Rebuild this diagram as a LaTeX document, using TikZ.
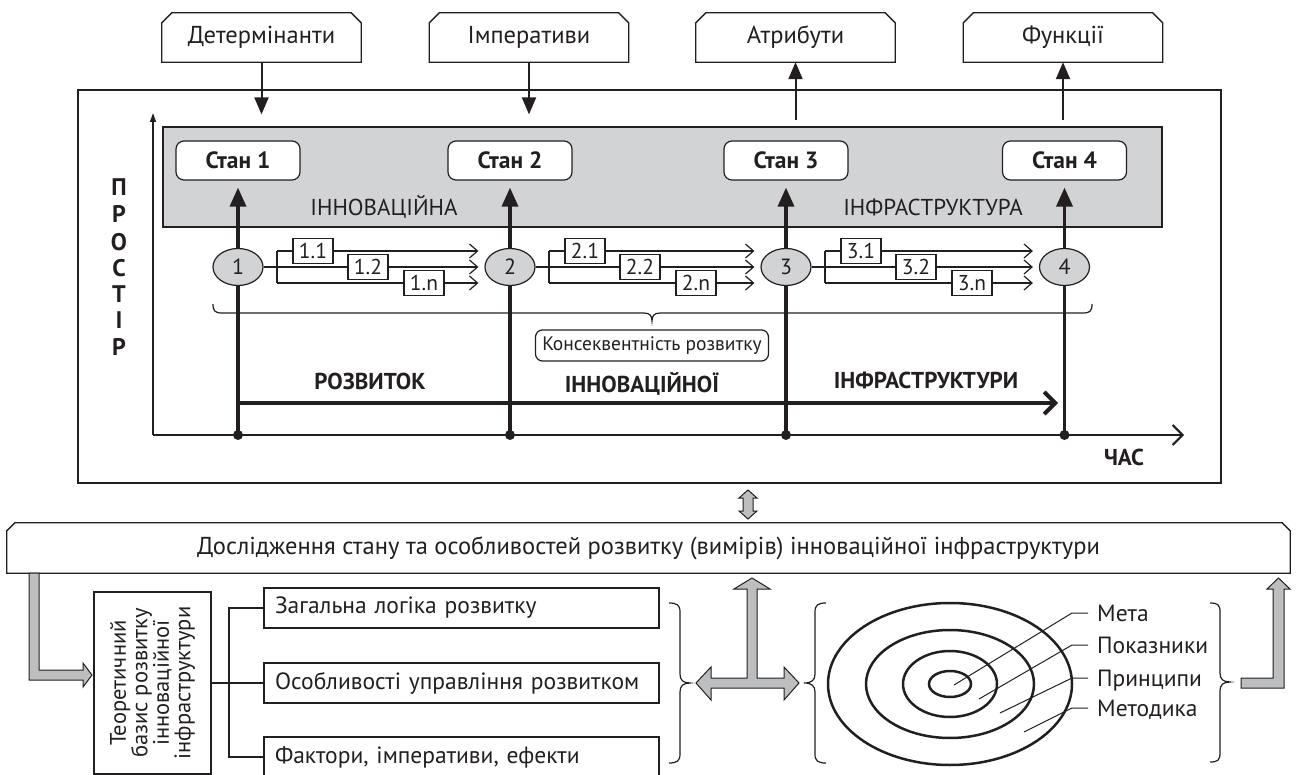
\documentclass[tikz,border=0pt]{standalone}
\usepackage{fontspec}
\setmainfont{PT Sans}
\usetikzlibrary{arrows.meta,calc,shapes.geometric}
\definecolor{ink}{HTML}{231F20}
\definecolor{bandgray}{HTML}{D1D3D4}
\definecolor{blockgray}{HTML}{BCBEC0}
\newcommand\fsz[1]{\fontsize{#1pt}{#1pt}\selectfont}
\newcommand\chamframe[2]{\draw[boxline] (#1.south west) -- ([yshift=-#2pt]#1.north west) -- ([xshift=#2pt]#1.north west) -- ([xshift=-#2pt]#1.north east) -- ([yshift=-#2pt]#1.north east) -- (#1.south east) -- cycle;}
\begin{document}
\begin{tikzpicture}[x=1pt,y=-1pt,
  every node/.style={text=ink},
  boxline/.style={draw=ink,line width=1.3pt},
  thinl/.style={draw=ink,line width=1.2pt},
  topbox/.style={minimum width=199pt,minimum height=49pt,inner sep=0pt,font=\fsz{24.5}},
  stanbox/.style={draw=ink,line width=1.2pt,rounded corners=8pt,fill=white,minimum width=124pt,minimum height=39pt,inner sep=0pt,font=\bfseries\fsz{23.5}},
  numnode/.style={ellipse,draw=ink,fill=bandgray,line width=1.2pt,minimum width=50pt,minimum height=37pt,inner sep=0pt,font=\fsz{22}},
  subbox/.style={draw=ink,fill=white,line width=1.1pt,minimum width=40pt,minimum height=25pt,inner sep=0pt,font=\fsz{21.5}},
  axisdot/.style={circle,fill=ink,inner sep=0pt,minimum size=10pt},
  inarrow/.style={draw=ink,line width=2pt,-{Triangle[length=17pt,width=14pt]}},
  stemarrow/.style={draw=ink,line width=3.5pt,-{Triangle[length=19pt,width=16pt]}},
  brarrow/.style={draw=ink,line width=1.2pt,-{Straight Barb[length=8pt,width=14pt]}},
  boldlabel/.style={font=\bfseries\fsz{23}},
  itembox/.style={draw=ink,line width=1.2pt,minimum width=395pt,minimum height=40pt,text width=373pt,inner xsep=11pt,inner ysep=0pt,align=left,font=\fsz{23.5}},
  blockarrow/.style={fill=blockgray,draw=ink,line width=1pt,line join=miter},
  ring/.style={ellipse,draw=ink,line width=2.5pt,inner sep=0pt},
  ringlabel/.style={anchor=west,inner xsep=9pt,inner ysep=0pt,text height=16pt,text depth=0pt,font=\fsz{23.5}},
  bracel/.style={draw=ink,line width=1.2pt}
]
\useasboundingbox (0,0) rectangle (1296,775);

% top boxes
\node[topbox] (det) at (261.5,37.5) {Детермінанти};
\node[topbox] (imp) at (529,37.5) {Імперативи};
\node[topbox] (atr) at (795.5,37.5) {Атрибути};
\node[topbox] (fun) at (1063,37.5) {Функції};
\foreach \b in {det,imp,atr,fun} {\chamframe{\b}{10}}

% frame and band
\node[boxline,minimum width=1143pt,minimum height=393pt,inner sep=0pt] (frame) at (649.5,286.5) {};
\node[fill=bandgray,draw=ink,line width=1.2pt,minimum width=999pt,minimum height=100pt,inner sep=0pt] (band) at (662.5,177) {};
\node[font=\fsz{23}] (bandA) at (384,207) {ІННОВАЦІЙНА};
\node[font=\fsz{23}] (bandB) at (933,207) {ІНФРАСТРУКТУРА};

\draw[inarrow] (det.south) -- ([yshift=12pt]band.north -| det.south);
\draw[inarrow] (imp.south) -- ([yshift=12pt]band.north -| imp.south);
\draw[inarrow] ([yshift=6pt]band.north -| atr.south) -- (atr.south);
\draw[inarrow] ([yshift=6pt]band.north -| fun.south) -- (fun.south);

% states
\node[stanbox] (s1) at (238,160.5) {Стан 1};
\node[stanbox] (s2) at (510,160.5) {Стан 2};
\node[stanbox] (s3) at (786,160.5) {Стан 3};
\node[stanbox] (s4) at (1064.5,160.5) {Стан 4};

% axes
\coordinate (orig) at (153,435);
\coordinate (ytip) at (153,113);
\coordinate (xtip) at (1184,435);
\draw[thinl,-{Triangle[length=9pt,width=6pt]}] (orig) -- (ytip);
\draw[draw=ink,line width=2pt,-{Straight Barb[length=10pt,width=20pt]}] (orig) -- (xtip);

\node[axisdot] (t1) at (238,435) {};
\node[axisdot] (t2) at (510,435) {};
\node[axisdot] (t3) at (786,435) {};
\node[axisdot] (t4) at (1064.5,435) {};

\coordinate (devend) at (1058,403);
\draw[draw=ink,line width=4pt,-{Straight Barb[length=11pt,width=22pt]}] (t1.center |- devend) -- (devend);

\foreach \k in {1,...,4} \draw[stemarrow,shorten >=7pt] (t\k.center) -- (s\k.south);

\node[numnode] (n1) at (238,267) {1};
\node[numnode] (n2) at (510,267) {2};
\node[numnode] (n3) at (786,267) {3};
\node[numnode] (n4) at (1064.5,267) {4};

\foreach \i/\j in {1/2,2/3,3/4} {
  \coordinate (br\i) at ($(n\i.center)+(39,0)$);
  \draw[thinl] (n\i.east) -- (br\i);
  \draw[thinl] ($(br\i)+(0,-16)$) -- ($(br\i)+(0,16)$);
  \foreach \dy in {-16,0,16}
    \draw[brarrow,shorten >=6pt] ($(br\i)+(0,\dy)$) -- ($(n\j.west)+(0,\dy)$);
  \node[subbox] (ba\i) at ($(n\i.center)+(75,-16)$) {\i.1};
  \node[subbox] (bb\i) at ($(n\i.center)+(130,0)$) {\i.2};
  \node[subbox] (bc\i) at ($(n\i.center)+(186,16)$) {\i.n};
}

% brace under the stages
\draw[bracel] (213,304) .. controls (213,311) and (215,313) .. (222,313) -- (644,313) .. controls (650,313) and (652,316) .. (652,321) .. controls (652,316) and (654,313) .. (660,313) -- (1083,313) .. controls (1090,313) and (1092,311) .. (1092,304);

\node[draw=ink,line width=1.2pt,rounded corners=7pt,minimum width=233pt,minimum height=31pt,inner sep=0pt,font=\fsz{19.5}] (kons) at (652,345.5) {Консеквентність розвитку};

\node[boldlabel] (lr) at (370,381) {РОЗВИТОК};
\node[boldlabel] (li) at (642,384) {ІННОВАЦІЙНОЇ};
\node[boldlabel] (lf) at (926,380) {ІНФРАСТРУКТУРИ};
\node[boldlabel] (chas) at (1124,457) {ЧАС};

\foreach \ch/\yy [count=\c] in {П/187,Р/214,О/242,С/268,Т/294,І/320,Р/347}
  \node[font=\bfseries\fsz{24}] (pr\c) at (119,\yy) {\ch};

% bottom part
\node[minimum width=1283pt,minimum height=50pt,inner sep=0pt,font=\fsz{24.5}] (dos) at (648.5,548) {Дослідження стану та особливостей розвитку (вимірів) інноваційної інфраструктури};
\chamframe{dos}{8}

\path[blockarrow] (748,490) -- (757,498) -- (753,498) -- (753,511) -- (757,511) -- (748,519) -- (739,511) -- (743,511) -- (743,498) -- (739,498) -- cycle;

\path[blockarrow] (29,573) -- (39,573) -- (39,670) -- (83,670) -- (83,663) -- (92,675) -- (83,687) -- (83,680) -- (29,680) -- cycle;

\node[draw=ink,line width=1.2pt,minimum width=117pt,minimum height=182pt,inner sep=0pt] (teor) at (152.5,683) {};
\node[rotate=90,align=center,inner sep=0pt,font=\fontsize{22.5pt}{21.5pt}\selectfont] (teortxt) at (teor.center) {Теоретичний\\базис розвитку\\інноваційної\\інфраструктури};

\node[itembox] (g1) at (461.5,608) {\mbox{Загальна логіка розвитку}};
\node[itembox] (g2) at (461.5,683) {\mbox{Особливості управління розвитком}};
\node[itembox] (g3) at (461.5,757) {\mbox{Фактори, імперативи, ефекти}};

\coordinate (brt) at (229,683);
\draw[thinl] (teor.east) -- (g2.west);
\draw[thinl] (g1.west) -| (brt) |- (g3.west);

% cross arrow
\path[blockarrow] (696,683) -- (711,667) -- (711,678) -- (747,678) -- (747,589) -- (734,589) -- (752,578) -- (770,589) -- (757,589) -- (757,678) -- (784,678) -- (784,667) -- (799,683) -- (784,700) -- (784,688) -- (711,688) -- (711,700) -- cycle;

% right elbow
\path[blockarrow] (1241,678) -- (1273,678) -- (1273,589) -- (1267,589) -- (1278.5,578) -- (1290,589) -- (1284,589) -- (1284,688) -- (1241,688) -- cycle;

% braces
\draw[bracel] (669,603) .. controls (677,603) and (680,605) .. (680,612) -- (680,674) .. controls (680,680) and (683,683) .. (690,683) .. controls (683,683) and (680,686) .. (680,692) -- (680,754) .. controls (680,761) and (677,763) .. (669,763);
\draw[bracel] (826,603) .. controls (818,603) and (815,605) .. (815,612) -- (815,674) .. controls (815,680) and (812,683) .. (804,683) .. controls (812,683) and (815,686) .. (815,692) -- (815,754) .. controls (815,761) and (818,763) .. (826,763);
\draw[bracel] (1210,603) .. controls (1218,603) and (1220,605) .. (1220,612) -- (1220,673) .. controls (1220,679) and (1223,682) .. (1230,682) .. controls (1223,682) and (1220,685) .. (1220,691) -- (1220,753) .. controls (1220,760) and (1218,762) .. (1210,762);

% rings
\coordinate (rc) at (950,684);
\node[ring,minimum width=244pt,minimum height=162pt] (r4) at (rc) {};
\node[ring,minimum width=168pt,minimum height=108pt] (r3) at (rc) {};
\node[ring,minimum width=94pt,minimum height=66pt] (r2) at (rc) {};
\node[ring,minimum width=42pt,minimum height=26pt] (r1) at (rc) {};

\node[ringlabel] (lm) at (1088,613) {Мета};
\node[ringlabel] (lp) at (1088,645) {Показники};
\node[ringlabel] (lpr) at (1088,678) {Принципи};
\node[ringlabel] (lmt) at (1088,708) {Методика};
\coordinate (pm) at (954,685);
\coordinate (pp) at (979,699);
\coordinate (ppr) at (1000,713);
\coordinate (pmt) at (1024,732);
\draw[draw=ink,line width=1pt] (lm.west) -- ++(-16,0) -- (pm);
\draw[draw=ink,line width=1pt] (lp.west) -- ++(-16,0) -- (pp);
\draw[draw=ink,line width=1pt] (lpr.west) -- ++(-16,0) -- (ppr);
\draw[draw=ink,line width=1pt] (lmt.west) -- ++(-16,0) -- (pmt);
\end{tikzpicture}
\end{document}
